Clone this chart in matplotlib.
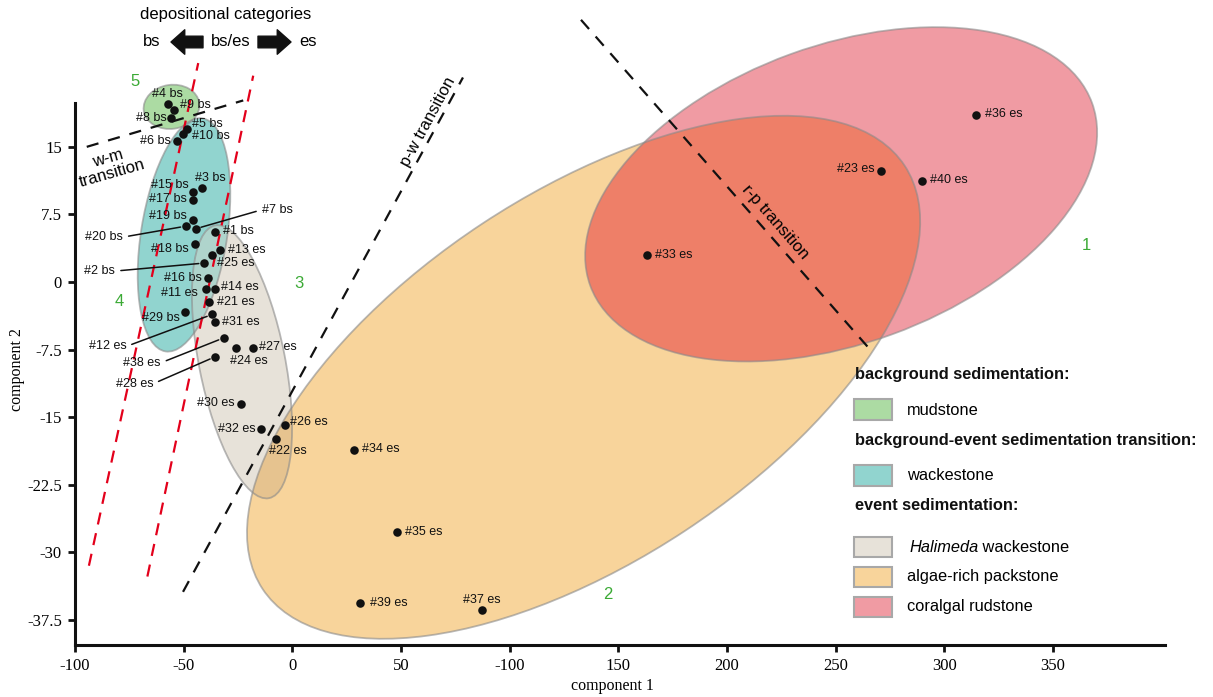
import matplotlib.pyplot as plt
from matplotlib.patches import Ellipse, Rectangle, FancyArrowPatch
from matplotlib.transforms import Affine2D

plt.rcParams['font.family'] = ['Liberation Sans', 'DejaVu Sans']

W, H = 1213, 697

# samples
labels = ['#4 bs', '#9 bs', '#8 bs', '#5 bs', '#10 bs', '#6 bs', '#3 bs',
          '#15 bs', '#17 bs', '#19 bs', '#20 bs', '#7 bs', '#1 bs', '#18 bs',
          '#13 es', '#25 es', '#2 bs', '#16 bs', '#11 es', '#14 es', '#21 es',
          '#29 bs', '#12 es', '#31 es', '#38 es', '#24 es', '#27 es', '#28 es',
          '#30 es', '#32 es', '#26 es', '#22 es', '#34 es', '#35 es', '#39 es',
          '#37 es', '#36 es', '#23 es', '#40 es', '#33 es']
comp1 = [-57.4, -54.6, -56.0, -48.3, -50.2, -53.1, -41.7,
         -45.9, -45.9, -45.9, -48.9, -44.5, -35.6, -44.8,
         -33.3, -36.8, -40.5, -39.0, -39.6, -35.5, -38.2,
         -49.3, -36.8, -35.6, -31.5, -26.1, -18.0, -35.5,
         -23.5, -14.3, -3.3, -7.3, 28.5, 48.1, 31.2,
         87.2, 314.6, 271.0, 289.9, 163.0]
comp2 = [19.8, 19.1, 18.25, 17.0, 16.4, 15.7, 10.4,
         10.0, 9.1, 6.9, 6.2, 5.9, 5.6, 4.2,
         3.6, 3.0, 2.1, 0.4, -0.8, -0.8, -2.2,
         -3.3, -3.6, -4.4, -6.2, -7.3, -7.3, -8.3,
         -13.6, -16.3, -15.9, -17.4, -18.7, -27.8, -35.6,
         -36.4, 18.55, 12.3, 11.2, 3.0]

# label placement: ha, dx, dy (pixels), leader line
place = {
    '#4 bs': ('center', 0, 10, False), '#9 bs': ('left', 6, 5, False),
    '#8 bs': ('right', -4, 0, False), '#5 bs': ('left', 5, 5, False),
    '#10 bs': ('left', 9, -2, False), '#6 bs': ('right', -6, 0, False),
    '#3 bs': ('left', -7, 10, False), '#15 bs': ('right', -4, 7, False),
    '#17 bs': ('right', -6, 1, False), '#19 bs': ('right', -6, 4, False),
    '#20 bs': ('right', -63, -11, True), '#7 bs': ('left', 66, 19, True),
    '#1 bs': ('left', 8, 1, False), '#18 bs': ('right', -6, -5, False),
    '#13 es': ('left', 8, 0, False), '#25 es': ('left', 5, -8, False),
    '#2 bs': ('right', -89, -8, True), '#16 bs': ('right', -6, 0, False),
    '#11 es': ('right', -8, -4, False), '#14 es': ('left', 6, 2, False),
    '#21 es': ('left', 8, 0, False), '#29 bs': ('right', -5, -6, False),
    '#12 es': ('right', -86, -32, True), '#31 es': ('left', 7, 0, False),
    '#38 es': ('right', -63, -25, True), '#24 es': ('left', -6, -13, False),
    '#27 es': ('left', 6, 1, False), '#28 es': ('right', -62, -27, True),
    '#30 es': ('right', -7, 1, False), '#32 es': ('right', -6, 0, False),
    '#26 es': ('left', 5, 3, False), '#22 es': ('left', -7, -12, False),
    '#34 es': ('left', 8, 1, False), '#35 es': ('left', 8, 0, False),
    '#39 es': ('left', 10, 0, False), '#37 es': ('center', 0, 10, False),
    '#36 es': ('left', 9, 1, False), '#23 es': ('right', -7, 2, False),
    '#40 es': ('left', 8, 1, False), '#33 es': ('left', 8, 0, False),
}

# clusters (centre in data units, semi-axes in screen pixels)
cluster_names = ['mudstone', 'wackestone', 'Halimeda wackestone',
                 'algae-rich packstone', 'coralgal rudstone']
cluster_ids = ['5', '4', '3', '2', '1']
cluster_colors = ['#ACDBA3', '#91D4CF', '#E7E2D9', '#F8D49B', '#F09BA3']
cluster_cx = [-55.6, -49.85, -23.16, 134.0, 252.5]
cluster_cy = [19.44, 5.23, -8.86, -10.58, 9.73]
cluster_a = [28, 118, 139, 384.5, 267]
cluster_b = [22, 43, 43, 184, 149]
cluster_angle = [8, 81, 101.2, 33.4, 20]
id_x = [-72.4, -79.6, 3.1, 145.1, 365.2]
id_y = [22.2, -2.2, -0.2, -34.7, 4.05]
overlaps = [(1, 2, '#AFD4CC'), (2, 3, '#E6C38F'), (3, 4, '#EE7F68')]

# guide lines
red_lines = [((-93.6, -43.3), (-31.5, 24.3)), ((-66.7, -18.0), (-32.7, 22.9))]
black_lines = [((-94.6, -22.6), (15.0, 20.15)),
               ((-50.3, 78.5), (-34.4, 22.7)),
               ((132.8, 265.8), (29.1, -7.5))]

xticks = [-100, -50, 0, 50, 100, 150, 200, 250, 300, 350]
xtick_labels = ['-100', '-50', '0', '50', '-100', '150', '200', '250', '300', '350']
yticks = [15, 7.5, 0, -7.5, -15, -22.5, -30, -37.5]
ytick_labels = ['15', '7.5', '0', '-7.5', '-15', '-22.5', '-30', '-37.5']

xmin, xmax = -100, 401.5
ymin, ymax = -40.3, 19.9

fig = plt.figure(figsize=(W / 100, H / 100), dpi=100)
l, b, w, h = 75 / W, (H - 645) / H, 1090 / W, 542.3 / H
ax = fig.add_axes([l, b, w, h])
ax.set_xlim(xmin, xmax)
ax.set_ylim(ymin, ymax)

kx = w * W / (xmax - xmin)
ky = h * H / (ymax - ymin)
to_data = Affine2D().scale(1 / kx, 1 / ky) + ax.transData


def make_ellipse(i, **kw):
    return Ellipse((cluster_cx[i] * kx, cluster_cy[i] * ky),
                   2 * cluster_a[i], 2 * cluster_b[i],
                   angle=cluster_angle[i], transform=to_data, **kw)


fills = []
for i in range(len(cluster_names)):
    p = make_ellipse(i, facecolor=cluster_colors[i], edgecolor='none',
                     zorder=1, clip_on=False)
    ax.add_patch(p)
    fills.append(p)

for i, j, c in overlaps:
    p = make_ellipse(j, facecolor=c, edgecolor='none', zorder=1.2)
    ax.add_patch(p)
    p.set_clip_path(fills[i])

for i in range(len(cluster_names)):
    ax.add_patch(make_ellipse(i, fill=False, edgecolor='#8a8a8a', lw=1.3,
                              alpha=0.6, zorder=1.5, clip_on=False))

for i, t in enumerate(cluster_ids):
    ax.text(id_x[i], id_y[i], t, color='#3BAA35', fontsize=12,
            ha='center', va='center', zorder=5)

for xs, ys in red_lines:
    ax.plot(xs, ys, color='#E3001B', lw=1.6, dashes=(5.5, 4), zorder=3,
            clip_on=False)
for xs, ys in black_lines:
    ax.plot(xs, ys, color='#111111', lw=1.6, dashes=(5.5, 4.5), zorder=3,
            clip_on=False)

ax.text(-83.9, 12.9, 'w-m\ntransition', rotation=16, fontsize=12,
        ha='center', va='center', rotation_mode='anchor', linespacing=1.0)
ax.text(62.6, 17.8, 'p-w transition', rotation=61.6, fontsize=12,
        ha='center', va='center', rotation_mode='anchor')
ax.text(222.3, 6.7, 'r-p transition', rotation=-48.8, fontsize=12,
        ha='center', va='center', rotation_mode='anchor')

ax.scatter(comp1, comp2, s=38, color='#111111', zorder=4, clip_on=False,
           linewidths=0)

for lab, x, y in zip(labels, comp1, comp2):
    ha, dx, dy, leader = place[lab]
    kw = {}
    if leader:
        kw['arrowprops'] = dict(arrowstyle='-', color='#111111', lw=1.1,
                                shrinkA=2, shrinkB=4,
                                relpos=(1, 0.5) if ha == 'right' else (0, 0.5))
    ax.annotate(lab, xy=(x, y), xytext=(dx, dy), textcoords='offset pixels',
                ha=ha, va='center', fontsize=9, color='#111111',
                zorder=5, annotation_clip=False, **kw)

for s in ['top', 'right']:
    ax.spines[s].set_visible(False)
for s in ['left', 'bottom']:
    ax.spines[s].set_linewidth(2.2)
    ax.spines[s].set_color('#111111')
ax.set_xticks(xticks, xtick_labels)
ax.set_yticks(yticks, ytick_labels)
ax.tick_params(width=2, length=5, labelsize=12, pad=4.5, color='#111111',
               labelfontfamily='Liberation Serif')
ax.set_xlabel('component 1', fontsize=11.5, family='Liberation Serif')
ax.set_ylabel('component 2', fontsize=11.5, family='Liberation Serif')
ax.xaxis.set_label_coords((612 - 75) / 1090, -0.061)
ax.yaxis.set_label_coords((25 - 75) / 1090, 0.507)


def fx(px):
    return px / W


def fy(py):
    return 1 - py / H


# depositional categories header
fig.text(fx(225.3), fy(15), 'depositional categories', fontsize=12,
         ha='center', va='center')
for t, px in [('bs', 152), ('bs/es', 230.5), ('es', 308)]:
    fig.text(fx(px), fy(42), t, fontsize=12, ha='center', va='center')
arrow_style = 'simple,head_length=0.45,head_width=0.8,tail_width=0.38'
for tail, tip in [(203, 171), (258, 291)]:
    fig.add_artist(FancyArrowPatch(
        (fx(tail), fy(42)), (fx(tip), fy(42)), transform=fig.transFigure,
        arrowstyle=arrow_style, mutation_scale=22, color='#111111',
        shrinkA=0, shrinkB=0))

# legend
headings = [('background sedimentation:', 375),
            ('background-event sedimentation transition:', 440.7),
            ('event sedimentation:', 506)]
for t, py in headings:
    fig.text(fx(855), fy(py), t, fontsize=11.8, fontweight='bold',
             ha='left', va='center', color='#111111')

swatch_top = [399.3, 465, 536.7, 566.7, 596.7]
text_y = [410.5, 475.5, 547, 577, 607]
for i, name in enumerate(cluster_names):
    fig.add_artist(Rectangle((fx(853.5), fy(swatch_top[i] + 20.5)),
                             38 / W, 20.5 / H, transform=fig.transFigure,
                             facecolor=cluster_colors[i], edgecolor='#a8a8a8',
                             lw=1.5))
    if name.startswith('Halimeda'):
        th = fig.text(fx(909), fy(text_y[i]), 'Halimeda', fontsize=11.8,
                      style='italic', ha='left', va='center')
        ax.annotate(' wackestone', xy=(1, 0.5), xycoords=th, ha='left',
                    va='center', fontsize=11.8, annotation_clip=False)
    else:
        fig.text(fx(907), fy(text_y[i]), name, fontsize=11.8,
                 ha='left', va='center')

fig.savefig('out.png', dpi=100)
